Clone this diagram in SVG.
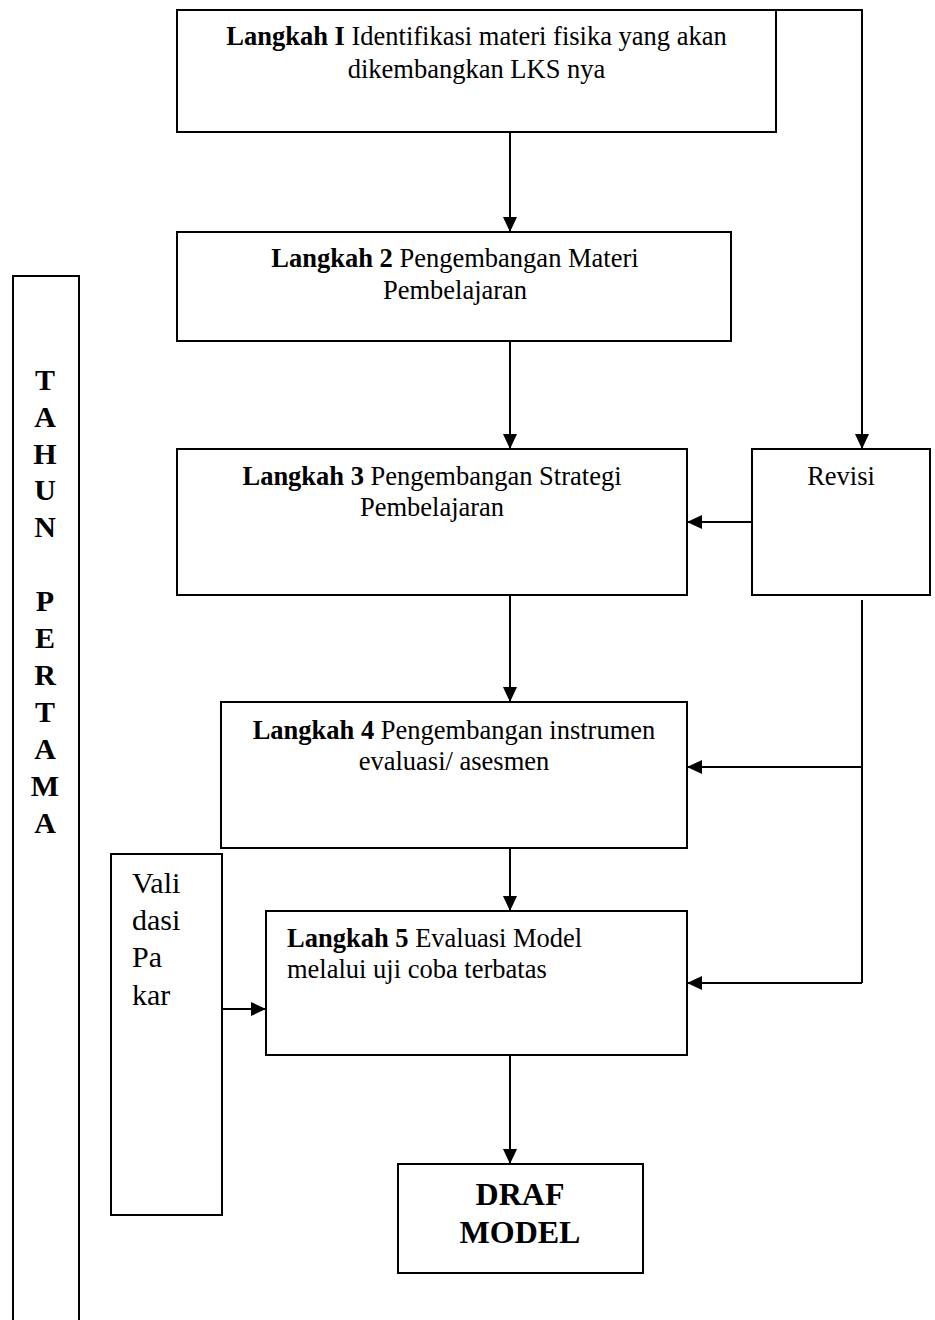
<svg xmlns="http://www.w3.org/2000/svg" width="935" height="1320" viewBox="0 0 935 1320">
<style>
.box{fill:#fff;stroke:#000;stroke-width:2}
.ln{fill:none;stroke:#000;stroke-width:2}
.t{font-family:"Liberation Serif","Times New Roman",serif;font-size:26.5px;fill:#000}
.b{font-weight:bold}
.c{text-anchor:middle}
.p{font-size:30px}
.v{font-family:"Liberation Serif","Times New Roman",serif;font-size:30px;font-weight:bold;text-anchor:middle;fill:#000}
</style>
<defs>
<marker id="ah" viewBox="0 0 15 14" markerWidth="15" markerHeight="14" markerUnits="userSpaceOnUse" refX="15" refY="7" orient="auto">
<path d="M0,0 L15,7 L0,14 z" fill="#000"/>
</marker>
</defs>
<rect width="935" height="1320" fill="#fff"/>
<g id="connectors">
<path class="ln" d="M776,10 H862 V449" marker-end="url(#ah)"/>
<line class="ln" x1="510" y1="132" x2="510" y2="232" marker-end="url(#ah)"/>
<line class="ln" x1="510" y1="341" x2="510" y2="449" marker-end="url(#ah)"/>
<line class="ln" x1="752" y1="522" x2="687" y2="522" marker-end="url(#ah)"/>
<line class="ln" x1="510" y1="595" x2="510" y2="702" marker-end="url(#ah)"/>
<path class="ln" d="M862,600 V983"/>
<line class="ln" x1="862" y1="767" x2="687" y2="767" marker-end="url(#ah)"/>
<line class="ln" x1="862" y1="983" x2="687" y2="983" marker-end="url(#ah)"/>
<line class="ln" x1="510" y1="848" x2="510" y2="911" marker-end="url(#ah)"/>
<line class="ln" x1="222" y1="1009" x2="266" y2="1009" marker-end="url(#ah)"/>
<line class="ln" x1="510" y1="1055" x2="510" y2="1164" marker-end="url(#ah)"/>
</g>
<g id="langkah1">
<rect class="box" x="177" y="10" width="599" height="122"/>
<text class="t c" x="476.5" y="45"><tspan class="b">Langkah I</tspan> Identifikasi materi fisika yang akan</text>
<text class="t c" x="476.5" y="78">dikembangkan LKS nya</text>
</g>
<g id="langkah2">
<rect class="box" x="177" y="232" width="554" height="109"/>
<text class="t c" x="455" y="267"><tspan class="b">Langkah 2</tspan> Pengembangan Materi</text>
<text class="t c" x="455" y="299">Pembelajaran</text>
</g>
<g id="langkah3">
<rect class="box" x="177" y="449" width="510" height="146"/>
<text class="t c" x="432" y="485"><tspan class="b">Langkah 3</tspan> Pengembangan Strategi</text>
<text class="t c" x="432" y="516">Pembelajaran</text>
</g>
<g id="revisi">
<rect class="box" x="752" y="449" width="178" height="146"/>
<text class="t c" x="841" y="485">Revisi</text>
</g>
<g id="langkah4">
<rect class="box" x="221" y="702" width="466" height="146"/>
<text class="t c" x="454" y="739"><tspan class="b">Langkah 4</tspan> Pengembangan instrumen</text>
<text class="t c" x="454" y="770">evaluasi/ asesmen</text>
</g>
<g id="langkah5">
<rect class="box" x="266" y="911" width="421" height="144"/>
<text class="t" x="287" y="947"><tspan class="b">Langkah 5</tspan> Evaluasi Model</text>
<text class="t" x="287" y="978">melalui uji coba terbatas</text>
</g>
<g id="validasi">
<rect class="box" x="111" y="854" width="111" height="361"/>
<text class="t p" x="132" y="893">Vali</text>
<text class="t p" x="132" y="930">dasi</text>
<text class="t p" x="132" y="967">Pa</text>
<text class="t p" x="132" y="1005">kar</text>
</g>
<g id="draf">
<rect class="box" x="398" y="1164" width="245" height="109"/>
<text class="t c b" style="font-size:32px" x="520" y="1205">DRAF</text>
<text class="t c b" style="font-size:32px" x="520" y="1243">MODEL</text>
</g>
<g id="tahun">
<rect class="box" x="13" y="276" width="66" height="1060"/>
<text class="v" x="45" y="390">T</text>
<text class="v" x="45" y="427">A</text>
<text class="v" x="45" y="464">H</text>
<text class="v" x="45" y="500">U</text>
<text class="v" x="45" y="537">N</text>
<text class="v" x="45" y="611">P</text>
<text class="v" x="45" y="648">E</text>
<text class="v" x="45" y="685">R</text>
<text class="v" x="45" y="722">T</text>
<text class="v" x="45" y="759">A</text>
<text class="v" x="45" y="796">M</text>
<text class="v" x="45" y="833">A</text>
</g>
</svg>
